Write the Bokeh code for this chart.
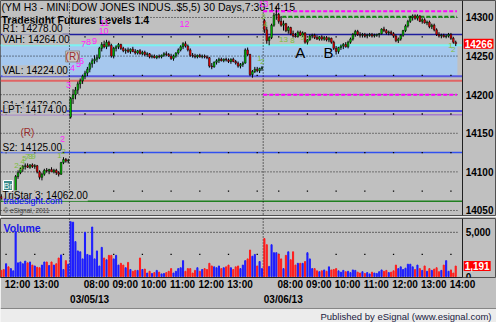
import numpy as np
from bokeh.plotting import figure
from bokeh.layouts import column
from bokeh.models import Range1d, FixedTicker, LinearAxis, Label, Span, ColumnDataSource
from bokeh.core.properties import value
from bokeh.embed import file_html
from bokeh.resources import INLINE

FONT = "Liberation Sans"
BG = "#c0c0c0"

# ---------------- data ----------------
day_dates = ["03/04/13", "03/05/13", "03/06/13"]
day_first_bar = ["11:50", "07:30", "07:30"]

d0_open  = [14068,14066,14064,14067,14065,14067,14069,14094,14099,14104,14107,14108,14106,14109,14107,14108,14100,14093,14097,14102,14101,14103,14100,14102,14099,14097,14112,14116,14114]
d0_high  = [14071,14069,14068,14070,14068,14071,14096,14102,14106,14109,14111,14111,14110,14111,14110,14109,14102,14099,14104,14105,14104,14106,14104,14104,14101,14113,14119,14118,14117]
d0_low   = [14064,14063,14061,14063,14062,14064,14067,14091,14097,14100,14103,14105,14104,14105,14104,14098,14090,14089,14095,14099,14097,14100,14098,14096,14094,14096,14110,14112,14111]
d0_close = [14066,14064,14067,14065,14067,14069,14094,14099,14104,14107,14108,14106,14109,14107,14108,14100,14093,14097,14102,14101,14103,14100,14102,14099,14097,14112,14116,14114,14115]
d0_vol   = [700,800,1450,1100,900,650,5100,1550,1650,1450,1750,1550,1650,1300,1200,1050,1000,1300,1650,1650,1250,1650,1300,1450,2100,2450,800,1800,1400]

d1_ohlc = [
 (14171,14197,14169,14195),(14195,14207,14188,14200),(14200,14210,14194,14206),(14206,14217,14201,14214),
 (14214,14221,14208,14218),(14218,14226,14214,14224),(14224,14231,14220,14228),(14228,14236,14224,14233),
 (14233,14242,14229,14240),(14240,14247,14235,14244),(14244,14251,14240,14246),(14246,14252,14242,14248),
 (14248,14262,14246,14260),(14260,14268,14256,14265),(14265,14270,14260,14262),(14262,14271,14259,14268),
 (14268,14270,14262,14264),(14264,14266,14248,14250),(14250,14262,14247,14260),(14260,14264,14256,14262),
 (14262,14267,14259,14265),(14265,14266,14258,14260),(14260,14262,14255,14257),(14257,14260,14253,14258),
 (14258,14261,14254,14256),(14256,14260,14253,14259),(14259,14262,14255,14256),(14256,14259,14252,14254),
 (14254,14258,14252,14257),(14257,14259,14252,14253),(14253,14257,14251,14255),(14255,14257,14250,14252),
 (14252,14255,14249,14253),(14253,14254,14247,14249),(14249,14252,14247,14250),(14250,14252,14247,14248),
 (14248,14251,14246,14250),(14250,14252,14247,14249),(14249,14252,14247,14251),(14251,14255,14249,14253),
 (14253,14256,14250,14252),(14252,14254,14249,14250),(14250,14253,14245,14247),(14247,14252,14244,14250),
 (14250,14255,14248,14254),(14254,14260,14252,14258),(14258,14264,14256,14262),(14262,14268,14259,14266),
 (14266,14269,14261,14263),(14263,14265,14256,14258),(14258,14260,14249,14251),(14251,14254,14248,14250),
 (14250,14253,14247,14249),(14249,14252,14247,14251),(14251,14253,14248,14249),(14249,14252,14247,14250),
 (14250,14252,14247,14249),(14249,14251,14246,14248),(14248,14249,14235,14237),(14237,14241,14233,14236),
 (14236,14243,14235,14242),(14242,14246,14239,14244),(14244,14248,14241,14246),(14246,14248,14243,14244),
 (14244,14247,14242,14246),(14246,14248,14243,14245),(14245,14247,14241,14243),(14243,14247,14240,14246),
 (14246,14248,14242,14243),(14243,14245,14239,14241),(14241,14243,14235,14237),(14237,14241,14234,14239),
 (14239,14243,14236,14241),(14241,14260,14240,14258),(14258,14261,14250,14252),(14252,14253,14224,14226),
 (14226,14232,14222,14230),(14230,14236,14228,14233),(14233,14236,14229,14231),(14231,14235,14228,14234),
 (14234,14237,14231,14235)]
d1_vol = [6200,6150,3950,2900,2800,2000,5000,2500,2400,5600,
          2000,2900,1200,3300,2100,1900,2400,2400,2000,2400,
          1300,1500,1300,1000,1600,800,600,700,700,2100,
          800,850,400,600,350,450,700,500,300,350,
          450,600,900,400,600,900,1000,1800,600,900,
          900,400,700,1000,600,800,900,800,1500,1200,
          1100,1000,1200,900,1000,1100,1300,1000,800,1100,
          1200,900,1300,1800,2000,3000,2300,2500,1200,1700,
          900]

d2_ohlc = [
 (14296,14298,14280,14284),(14284,14288,14266,14270),(14270,14276,14264,14274),(14274,14292,14272,14290),
 (14290,14306,14288,14303),(14303,14315,14297,14304),(14304,14306,14292,14295),(14295,14302,14288,14290),
 (14290,14296,14283,14292),(14292,14293,14281,14283),(14283,14289,14279,14287),(14287,14288,14277,14279),
 (14279,14283,14274,14276),(14276,14280,14274,14275),(14275,14283,14274,14281),(14281,14283,14276,14277),
 (14277,14282,14275,14280),(14280,14281,14266,14268),(14268,14272,14265,14271),(14271,14278,14270,14276),
 (14276,14279,14273,14277),(14277,14279,14272,14274),(14274,14277,14271,14272),(14272,14276,14270,14275),
 (14275,14277,14270,14272),(14272,14276,14270,14274),(14274,14276,14269,14271),(14271,14275,14268,14273),
 (14273,14274,14266,14268),(14268,14270,14258,14260),(14260,14263,14252,14256),(14256,14262,14253,14261),
 (14261,14265,14258,14263),(14263,14267,14259,14265),(14265,14268,14261,14262),(14262,14270,14260,14268),
 (14268,14274,14266,14272),(14272,14280,14270,14278),(14278,14284,14275,14282),(14282,14284,14276,14278),
 (14278,14281,14274,14277),(14277,14280,14274,14278),(14278,14280,14275,14276),(14276,14279,14273,14277),
 (14277,14280,14275,14278),(14278,14280,14274,14276),(14276,14279,14274,14277),(14277,14279,14275,14278),
 (14278,14280,14274,14279),(14279,14286,14278,14285),(14285,14288,14281,14283),(14283,14285,14278,14280),
 (14280,14283,14277,14281),(14281,14283,14277,14279),(14279,14281,14274,14276),(14276,14278,14268,14270),
 (14270,14274,14267,14272),(14272,14278,14270,14277),(14277,14284,14275,14283),(14283,14291,14281,14289),
 (14289,14297,14287,14295),(14295,14302,14293,14300),(14300,14304,14296,14302),(14302,14304,14297,14299),
 (14299,14304,14296,14302),(14302,14303,14294,14295),(14295,14299,14292,14297),(14297,14299,14292,14293),
 (14293,14296,14290,14294),(14294,14296,14286,14288),(14288,14292,14285,14290),(14290,14292,14282,14284),
 (14284,14286,14276,14278),(14278,14281,14274,14276),(14276,14279,14273,14277),(14277,14279,14274,14275),
 (14275,14278,14273,14276),(14276,14280,14274,14278),(14278,14280,14271,14273),(14273,14275,14266,14268),
 (14268,14270,14263,14266)]
d2_vol = [4300,3600,1150,3600,2700,2700,2500,2000,900,2400,
          2800,1900,2800,1300,1500,1500,1500,1700,2700,2000,
          900,900,650,550,650,750,600,1100,750,800,
          900,650,500,700,550,600,450,750,700,500,
          400,550,350,450,300,500,400,350,550,750,
          600,700,450,500,650,1300,900,1100,800,950,
          1400,1400,1100,800,1300,900,700,1200,600,900,
          700,850,1000,550,700,1300,1800,600,750,400,
          1191]

# key levels (full width)
level_names  = ["R1", "VAH", "VAL", "S1", "LPT", "S2", "TriStar 3"]
level_prices = [14278.00, 14264.00, 14224.00, 14179.00, 14174.00, 14125.00, 14062.00]
level_colors = ["#1e1e9c", "#7cf2f2", "#5858dc", "#2222e6", "#a47ccc", "#3050f0", "#1f7f1f"]
level_widths = [1.5, 2, 2, 1.5, 1.5, 1.5, 1.5]
low_line_price = 14218
# partial (last day) dashed levels
dash_prices = [14308, 14200, 14301]
dash_colors = ["#ff00ff", "#ff00ff", "#108a10"]
dash_start_bar = [110, 110, 118]

price_ticks = [14050, 14100, 14150, 14200, 14250, 14300]
mid_levels = [14075, 14125, 14175, 14225, 14275]
vol_ticks = [0, 5000]

time_tick_days = [0, 0, 1, 1, 1, 1, 1, 1, 2, 2, 2, 2, 2, 2, 2]
time_tick_labels = ["12:00", "13:00", "08:00", "09:00", "10:00", "11:00", "12:00", "13:00",
                    "08:00", "09:00", "10:00", "11:00", "12:00", "13:00", "14:00"]
grid_hour_days = [0, 0, 0] + [1] * 7 + [2] * 7
grid_hour_labels = ["12:00", "13:00", "14:00"] + ["%02d:00" % h for h in range(8, 15)] * 2

# ---------------- assemble ----------------
def tmin(s):
    h, m = s.split(":")
    return int(h) * 60 + int(m)

opens = d0_open + [b[0] for b in d1_ohlc] + [b[0] for b in d2_ohlc]
highs = d0_high + [b[1] for b in d1_ohlc] + [b[1] for b in d2_ohlc]
lows = d0_low + [b[2] for b in d1_ohlc] + [b[2] for b in d2_ohlc]
closes = d0_close + [b[3] for b in d1_ohlc] + [b[3] for b in d2_ohlc]
vols = d0_vol + d1_vol + d2_vol
counts = [len(d0_open), len(d1_ohlc), len(d2_ohlc)]
starts = [0, counts[0], counts[0] + counts[1]]
N = len(opens)
xs = list(range(N))

def bar_of(day, t):
    return starts[day] + (tmin(t) - tmin(day_first_bar[day])) // 5

LABEL_SHIFT = 4.8
time_tick_pos = [round(bar_of(d, t) + LABEL_SHIFT, 2) for d, t in zip(time_tick_days, time_tick_labels)]
date_tick_pos = [round(starts[d] - 0.5 + 8.4, 2) for d in (1, 2)]
date_tick_labels = [day_dates[1], day_dates[2]]
hour_bars = [bar_of(d, t) for d, t in zip(grid_hour_days, grid_hour_labels)]

# x: bar index; frame spans the whole 496 px, price scale drawn at AXIS_X
X0, AXIS_X, XR = -0.33, 192.9, 207.05
VOL_LO, VOL_HI = -104, 6562
up = [c >= o for o, c in zip(opens, closes)]


def style_axis(ax, standoff=3):
    ax.major_tick_out = 0; ax.major_tick_in = 0; ax.minor_tick_out = 0; ax.minor_tick_in = 0
    ax.major_label_standoff = standoff
    ax.major_label_text_font = FONT; ax.major_label_text_font_size = "10px"
    ax.major_label_text_font_style = "bold"; ax.major_label_text_color = "#000000"


# ---------------- price pane ----------------
p = figure(width=496, height=216, x_range=Range1d(X0, XR), y_range=Range1d(14043.5, 14322.0),
           x_axis_location=None, y_axis_location=None, toolbar_location=None,
           output_backend="svg", min_border_left=0, min_border_right=0, min_border_top=0,
           min_border_bottom=1, background_fill_color=BG, border_fill_color=BG,
           outline_line_color="#505050")
for g in p.grid:
    g.visible = False
ya = LinearAxis(fixed_location=AXIS_X, ticker=FixedTicker(ticks=price_ticks))
style_axis(ya, 3)
ya.axis_line_color = "#202020"
p.add_layout(ya, "right")

# value area band
band = p.quad(left=[X0], right=[N - 1 + 0.7], bottom=[level_prices[2]], top=[level_prices[1]],
              fill_color="#a6c8ee", line_color=None)
band.level = "image"

# horizontal dotted grid
gl = p.segment(x0=[X0] * len(price_ticks), x1=[N - 1 + 0.7] * len(price_ticks), y0=price_ticks,
               y1=price_ticks, line_color="#000000", line_dash="1 2", line_width=1, line_alpha=0.85)
gl.level = "underlay"

# title text (behind bars)
for txt, yy, style in [("(YM H3 - MINI DOW JONES INDUS..$5,5) 30 Days,7:30-14:15", 215, "normal"),
                       ("Tradesight Futures Levels 1.4", 202, "bold")]:
    lab = Label(x=1, y=yy, x_units="screen", y_units="screen", text=txt, text_font=FONT,
                text_font_size="10.5px", text_font_style=style, text_color="#000000",
                text_baseline="top", text_align="left")
    lab.level = "underlay"
    p.add_layout(lab)

# hour grid dots
gx = [hb for hb in hour_bars for _ in mid_levels]
gy = [lv for _ in hour_bars for lv in mid_levels]
p.scatter(gx, gy, marker="square", size=1.3, color="#000000", line_color=None)

# day separators
for d in (1, 2):
    p.add_layout(Span(location=starts[d] - 0.5, dimension="height", line_color="#000000",
                      line_dash="1 2", line_width=1, level="underlay"))

# level lines
lv = p.segment(x0=[X0] * len(level_prices), x1=[AXIS_X] * len(level_prices), y0=level_prices,
               y1=level_prices, line_color=level_colors, line_width=level_widths)
lv.level = "underlay"
lr = p.segment(x0=[X0], x1=[AXIS_X], y0=[low_line_price], y1=[low_line_price],
               line_color="#e06464", line_width=2)
lr.level = "underlay"
for pr, col, sb in zip(dash_prices, dash_colors, dash_start_bar):
    p.segment(x0=[sb - 0.5], x1=[N - 1 + 0.5], y0=[pr], y1=[pr], line_color=col,
              line_width=2, line_dash="4 2")

# candles
src = ColumnDataSource(dict(x=xs, o=opens, h=highs, l=lows, c=closes,
                            top=[max(a, b) for a, b in zip(opens, closes)],
                            bot=[min(a, b) for a, b in zip(opens, closes)],
                            fill=["#00c400" if u else "#f00000" for u in up]))
p.segment(x0="x", x1="x", y0="l", y1="h", source=src, line_color="#000000", line_width=1)
p.vbar(x="x", width=0.72, top="top", bottom="bot", source=src, fill_color="fill",
       line_color="#000000", line_width=0.5)

# level labels
for nm, pr in zip(level_names, level_prices):
    p.add_layout(Label(x=2, x_units="screen", y=pr, text="%s: %.2f" % (nm, pr), text_font=FONT,
                       text_font_size="10px", text_color="#000000", text_baseline="bottom",
                       background_fill_color=BG, background_fill_alpha=0.9))

# study counts
mag_txt = ["2", "3", "4", "5", "6", "7", "8", "9", "10", "11", "12", "13"]
mag_x = [25.6, 28.1, 29.8, 32.3, 33.5, 34.4, 36.5, 39.0, 42.7, 43.1, 76.6, 109.6]
mag_y = [14143, 14212, 14234, 14240, 14243, 14266, 14268, 14270, 14282, 14293.5, 14292, 14317]
p.text(x=mag_x, y=mag_y, text=mag_txt, text_font=value(FONT), text_font_size="9px",
       text_color="#ff20ff", text_align="center", text_baseline="middle")
grn_txt = ["2", "3", "4", "5", "7", "8", "9", "1", "2", "1", "2", "3", "4", "13", "8", "9", "1", "2"]
grn_x = [6.4, 8.0, 9.0, 9.7, 11.0, 12.2, 13.5, 24.3, 26.0, 107.9, 109.2, 109.6, 110.5, 118.0, 121.7, 125.9, 187.8, 189.0]
grn_y = [14108, 14106, 14113, 14117, 14120, 14120, 14120, 14121, 14127, 14247, 14243, 14301, 14291, 14272, 14270, 14274, 14264, 14259]
p.text(x=grn_x, y=grn_y, text=grn_txt, text_font=value(FONT), text_font_size="8px",
       text_color="#7cbc3c", text_align="center", text_baseline="middle")

# (R) markers
p.add_layout(Label(x=29.8, y=14249.5, text="(R)", text_font=FONT, text_font_size="10px",
                   text_color="#9b2d2d", text_align="center", text_baseline="middle",
                   background_fill_color="#c8c8c8", border_line_color="#909090"))
p.add_layout(Label(x=10.95, y=14151, text="(R)", text_font=FONT, text_font_size="10px",
                   text_color="#9b2d2d", text_align="center", text_baseline="middle"))

# A / B
p.text(x=[125.0, 136.8], y=[14255, 14255], text=["A", "B"], text_font=value(FONT),
       text_font_size="15px", text_color="#000000", text_align="center", text_baseline="middle")

# logo / links
p.add_layout(Label(x=3, y=25, x_units="screen", y_units="screen", text="Br", text_font=FONT,
                   text_font_size="9px", text_color="#e8f4f4", background_fill_color="#3c8c8c",
                   border_line_color="#ffffff", text_baseline="bottom"))
p.add_layout(Label(x=3, y=10, x_units="screen", y_units="screen", text="tradesight.com", text_font=FONT,
                   text_font_size="9px", text_color="#0000ff", text_baseline="bottom"))
p.add_layout(Label(x=3, y=2, x_units="screen", y_units="screen", text="\u00a9 eSignal, 2011", text_font=FONT,
                   text_font_size="6.5px", text_color="#404040", text_baseline="bottom"))

# last price box on the scale
p.add_layout(Label(x=AXIS_X, x_offset=1, y=closes[-1], text="%d" % closes[-1], text_font=FONT,
                   text_font_size="10px", text_font_style="bold", text_color="#ffffff",
                   background_fill_color="#ff0000", text_baseline="middle", text_align="left",
                   padding=1))

# ---------------- volume pane ----------------
v = figure(width=496, height=91, x_range=p.x_range, y_range=Range1d(VOL_LO, VOL_HI),
           x_axis_location=None, y_axis_location=None, toolbar_location=None,
           output_backend="svg", min_border_left=0, min_border_right=0, min_border_top=2,
           min_border_bottom=0, background_fill_color=BG, border_fill_color=BG,
           outline_line_color="#505050")
for g in v.grid:
    g.visible = False
va = LinearAxis(fixed_location=AXIS_X, ticker=FixedTicker(ticks=vol_ticks),
                major_label_overrides={0: "0", 5000: "5,000"})
style_axis(va, 3)
va.axis_line_color = "#202020"
v.add_layout(va, "right")

vg = v.segment(x0=[X0], x1=[N - 1 + 0.7], y0=[5000], y1=[5000], line_color="#000000",
               line_dash="1 2", line_width=1)
vg.level = "underlay"
v.scatter(hour_bars, [2500] * len(hour_bars), marker="square", size=1.3, color="#000000", line_color=None)
for d in (1, 2):
    v.add_layout(Span(location=starts[d] - 0.5, dimension="height", line_color="#000000",
                      line_dash="1 2", line_width=1, level="underlay"))
v.vbar(x=xs, top=vols, bottom=0, width=0.45,
       color=["#1c1cff" if u else "#ff1c1c" for u in up])

v.add_layout(Label(x=X0, x_offset=3, y=VOL_HI, y_offset=-3, text="Volume", text_font=FONT,
                   text_font_size="10.5px", text_font_style="bold", text_color="#1818e8",
                   text_baseline="top"))
v.add_layout(Label(x=AXIS_X, x_offset=1, y=vols[-1], text="{:,}".format(vols[-1]), text_font=FONT,
                   text_font_size="10px", text_font_style="bold", text_color="#ffffff",
                   background_fill_color="#ff0000", text_baseline="middle", text_align="left",
                   padding=1))

t_ax = LinearAxis(ticker=FixedTicker(ticks=time_tick_pos), bounds=(X0, AXIS_X),
                  major_label_overrides=dict(zip(time_tick_pos, time_tick_labels)))
d_ax = LinearAxis(ticker=FixedTicker(ticks=date_tick_pos),
                  major_label_overrides=dict(zip(date_tick_pos, date_tick_labels)))
style_axis(t_ax, 1)
style_axis(d_ax, 1)
t_ax.axis_line_color = "#202020"
d_ax.axis_line_color = None
v.add_layout(t_ax, "below")
v.add_layout(d_ax, "below")

# ---------------- footer ----------------
f = figure(width=496, height=15, x_range=Range1d(0, 496), y_range=Range1d(0, 15),
           x_axis_location=None, y_axis_location=None, toolbar_location=None,
           output_backend="svg", min_border=0, background_fill_color="#ececec",
           border_fill_color="#ececec", outline_line_color=None)
for g in f.grid:
    g.visible = False
f.add_layout(Span(location=14.5, dimension="width", line_color="#202020", line_width=1))
f.add_layout(Label(x=491, y=6.5, text="Published by eSignal (www.esignal.com)", text_font=FONT,
                   text_font_size="9.5px", text_color="#202040", text_align="right",
                   text_baseline="middle"))

layout = column(p, v, f, spacing=0)
open("out.html", "w").write(file_html(layout, INLINE))
